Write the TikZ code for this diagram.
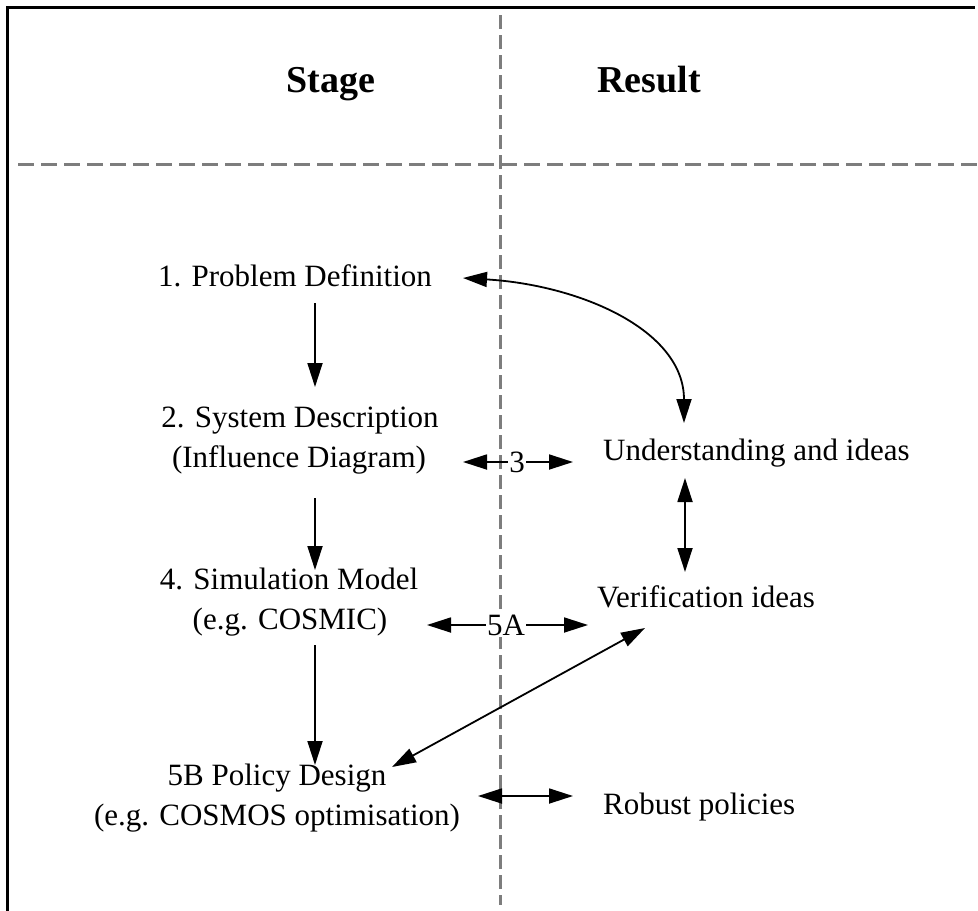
\documentclass[tikz,border=0pt]{standalone}
\usepackage{fontspec}
\setmainfont{Liberation Serif}
\usetikzlibrary{arrows.meta}
\definecolor{dashgray}{RGB}{125,125,125}
\begin{document}
\begin{tikzpicture}[x=1pt,y=-1pt,
  txt/.style={font=\fontsize{31}{37}\selectfont, inner sep=0pt, anchor=base},
  txtl/.style={txt, anchor=base west},
  head/.style={font=\bfseries\fontsize{38}{44}\selectfont, inner sep=0pt, anchor=base},
  tri/.tip={Triangle[length=24pt,width=15pt]},
  conn/.style={line width=1.8pt, -tri},
  bconn/.style={line width=1.8pt, tri-tri},
  lab/.style={font=\fontsize{31}{37}\selectfont, fill=white, inner sep=1.5pt},
  sep/.style={dashgray, line width=3pt}
]
\useasboundingbox (0,0) rectangle (978,911);
% frame
\draw[line width=3pt] (7,911) -- (7,7) -- (975,7);
% separators
\draw[sep, dash pattern=on 16pt off 7pt] (18,164) -- (978,164);
\draw[sep, dash pattern=on 14pt off 6pt] (500,15) -- (500,905);
% headers
\node[head] (stage) at (331,92) {Stage};
\node[head] (result) at (649,92) {Result};
% stages
\node[txt] (pd) at (295,286) {1. Problem Definition};
\node[txt] (sd) at (300,427) {2. System Description};
\node[txt] (sd2) at (299,467) {(Influence Diagram)};
\node[txt] (sm) at (289,589) {4. Simulation Model};
\node[txt] (sm2) at (290,629) {(e.g. COSMIC)};
\node[txt] (pol) at (277,785) {5B Policy Design};
\node[txt] (pol2) at (277,825) {(e.g. COSMOS optimisation)};
% results
\node[txtl] (ui) at (603,460) {Understanding and ideas};
\node[txtl] (vi) at (597,607) {Verification ideas};
\node[txtl] (rp) at (603,814) {Robust policies};
% connector end points
\coordinate (pdS) at (315,303);
\coordinate (sdN) at (315,387);
\coordinate (sdS) at (315,498);
\coordinate (smN) at (315,570);
\coordinate (smS) at (315,645);
\coordinate (polN) at (315,765);
\coordinate (pdE) at (463,278);
\coordinate (uiN) at (684,423);
\coordinate (sdE) at (463,462);
\coordinate (uiW) at (573,462);
\coordinate (uiS) at (685,478);
\coordinate (viN) at (685,572);
\coordinate (smE) at (427,625);
\coordinate (viW) at (588,625);
\coordinate (polE) at (392,767);
\coordinate (viSW) at (645,628);
\coordinate (pol2E) at (478,796);
\coordinate (rpW) at (573,796);
% connectors
\draw[conn] (pdS) -- (sdN);
\draw[conn] (sdS) -- (smN);
\draw[conn] (smS) -- (polN);
\draw[bconn] (pdE) .. controls (580,285) and (684,330) .. (uiN);
\draw[bconn] (sdE) -- (uiW);
\draw[bconn] (uiS) -- (viN);
\draw[bconn] (smE) -- (viW);
\draw[bconn] (polE) -- (viSW);
\draw[bconn] (pol2E) -- (rpW);
% connector labels
\node[lab] (l3) at (517,462) {3};
\node[lab] (l5a) at (506,625) {5A};
\end{tikzpicture}
\end{document}
